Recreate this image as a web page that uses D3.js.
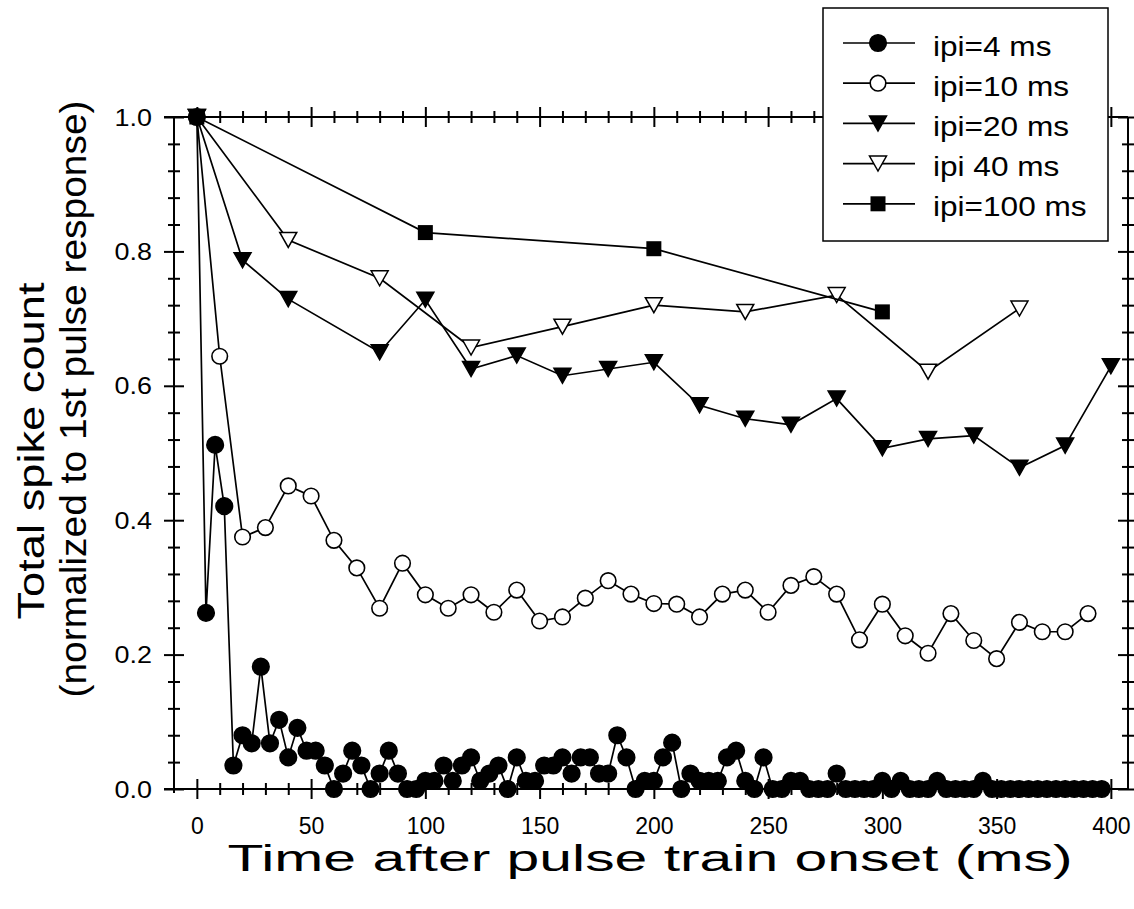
<!DOCTYPE html>
<html>
<head>
<meta charset="utf-8">
<script src="https://cdn.jsdelivr.net/npm/d3@7"></script>
<style>
  body { margin: 0; background: #fff; }
  svg { display: block; }
  text { font-family: "Liberation Sans", Arial, sans-serif; fill: #000; }
</style>
</head>
<body>
<svg id="chart" width="1134" height="909"></svg>
<script>
// Sampling times (ms) for each pulse interval
const timesIpi4 = [0,4,8,12,16,20,24,28,32,36,40,44,48,52,56,60,64,68,72,76,80,84,88,92,96,
  100,104,108,112,116,120,124,128,132,136,140,144,148,152,156,160,164,168,172,176,180,184,188,192,196,
  200,204,208,212,216,220,224,228,232,236,240,244,248,252,256,260,264,268,272,276,280,284,288,292,296,
  300,304,308,312,316,320,324,328,332,336,340,344,348,352,356,360,364,368,372,376,380,384,388,392,396];
const countsIpi4 = [1.0,0.262,0.512,0.421,0.035,0.080,0.068,0.182,0.068,0.103,0.047,0.091,0.057,0.057,0.035,0,0.023,0.057,0.035,0,0.023,0.057,0.023,0,0,
  0.012,0.012,0.035,0.012,0.035,0.047,0.012,0.023,0.035,0,0.047,0.012,0.012,0.035,0.035,0.047,0.023,0.047,0.047,0.023,0.023,0.080,0.047,0,0.012,
  0.012,0.047,0.069,0,0.023,0.012,0.012,0.012,0.047,0.057,0.012,0,0.047,0,0,0.012,0.012,0,0,0,0.023,0,0,0,0,
  0.012,0,0.012,0,0,0,0.012,0,0,0,0,0.012,0,0,0,0,0,0,0,0,0,0,0,0,0];

const timesIpi10 = [0,10,20,30,40,50,60,70,80,90,100,110,120,130,140,150,160,170,180,190,
  200,210,220,230,240,250,260,270,280,290,300,310,320,330,340,350,360,370,380,390];
const countsIpi10 = [1.0,0.644,0.375,0.389,0.451,0.436,0.370,0.329,0.269,0.336,0.289,0.269,0.289,0.263,0.296,0.250,0.256,0.284,0.310,0.290,
  0.276,0.275,0.256,0.290,0.296,0.263,0.303,0.316,0.290,0.222,0.275,0.228,0.202,0.261,0.221,0.194,0.248,0.234,0.234,0.261];

const timesIpi20 = [0,20,40,80,100,120,140,160,180,200,220,240,260,280,300,320,340,360,380,400];
const countsIpi20 = [1.0,0.787,0.729,0.650,0.728,0.625,0.645,0.615,0.625,0.635,0.571,0.551,0.542,0.581,0.507,0.521,0.526,0.478,0.511,0.629];

const timesIpi40 = [0,40,80,120,160,200,240,280,320,360];
const countsIpi40 = [1.0,0.817,0.760,0.657,0.688,0.720,0.710,0.735,0.621,0.715];

const timesIpi100 = [0,100,200,300];
const countsIpi100 = [1.0,0.828,0.804,0.710];

const seriesLabels = ["ipi=4 ms", "ipi=10 ms", "ipi=20 ms", "ipi 40 ms", "ipi=100 ms"];
const xMajorTicks = [0,50,100,150,200,250,300,350,400];
const yMajorTicks = [0,0.2,0.4,0.6,0.8,1.0];

const xTitle = "Time after pulse train onset (ms)";
const yTitleLines = ["Total spike count", "(normalized to 1st pulse response)"];

(function draw() {
  const svg = d3.select("#chart");
  const pL = 174, pR = 1128, pT = 117, pB = 789;

  const x = d3.scaleLinear().domain([-10, 407.5]).range([pL, pR]);
  const y = d3.scaleLinear().domain([0, 1]).range([pB, pT]);

  const xMinor = d3.range(0, 401, 10).filter(v => v % 50 !== 0);
  const yMinor = d3.range(0, 1.0001, 0.04).map(v => +v.toFixed(2))
    .filter(v => Math.abs(v / 0.2 - Math.round(v / 0.2)) > 1e-6);

  // marker shapes
  const symbols = {
    circleFilled: { type: "circle", fill: "#000", r: 8.3 },
    circleOpen:   { type: "circle", fill: "#fff", r: 7.8 },
    triFilled:    { type: "tri", fill: "#000" },
    triOpen:      { type: "tri", fill: "#fff" },
    square:       { type: "square", fill: "#000" }
  };

  function drawMarker(g, sym, cx, cy) {
    if (sym.type === "circle") {
      g.append("circle").attr("cx", cx).attr("cy", cy).attr("r", sym.r)
        .attr("fill", sym.fill).attr("stroke", "#000").attr("stroke-width", 1.6);
    } else if (sym.type === "tri") {
      const w = 17, h = 15;
      g.append("path")
        .attr("d", `M${cx - w/2},${cy - h/2}L${cx + w/2},${cy - h/2}L${cx},${cy + h/2}Z`)
        .attr("fill", sym.fill).attr("stroke", "#000").attr("stroke-width", 1.5);
    } else {
      const s = 15;
      g.append("rect").attr("x", cx - s/2).attr("y", cy - s/2).attr("width", s).attr("height", s)
        .attr("fill", sym.fill);
    }
  }

  // stretch a text along its own baseline to a given length
  function fitText(sel, length) {
    sel.attr("textLength", length).attr("lengthAdjust", "spacingAndGlyphs");
  }

  // ticks cross the axis lines
  function crossTicks(sel, len, vertical) {
    sel.selectAll(".tick line").each(function() {
      const l = d3.select(this);
      if (vertical) l.attr("x1", -len).attr("x2", len);
      else l.attr("y1", -len).attr("y2", len);
    });
  }
  const axisStyle = g => {
    g.selectAll("path.domain").remove();
    g.selectAll("line").attr("stroke", "#000").attr("stroke-width", 2);
  };

  // frame lines
  const frame = svg.append("g").attr("stroke", "#000").attr("stroke-width", 2);
  frame.append("line").attr("x1", pL - 10).attr("x2", pR).attr("y1", pB).attr("y2", pB);
  frame.append("line").attr("x1", pL - 10).attr("x2", pR).attr("y1", pT).attr("y2", pT);
  frame.append("line").attr("x1", pL).attr("x2", pL).attr("y1", pT).attr("y2", pB + 4);
  frame.append("line").attr("x1", pR).attr("x2", pR).attr("y1", pT).attr("y2", pB);

  // bottom axis
  const gxMaj = svg.append("g").attr("transform", `translate(0,${pB})`)
    .call(d3.axisBottom(x).tickValues(xMajorTicks).tickSize(10).tickPadding(0).tickFormat(d3.format("d")));
  axisStyle(gxMaj); crossTicks(gxMaj, 10, false);
  gxMaj.selectAll("text").attr("y", 45).attr("dy", null).attr("font-size", 23);

  const gxMin = svg.append("g").attr("transform", `translate(0,${pB})`)
    .call(d3.axisBottom(x).tickValues(xMinor).tickSize(6).tickFormat(""));
  axisStyle(gxMin); crossTicks(gxMin, 6, false);

  // top axis
  const gtMaj = svg.append("g").attr("transform", `translate(0,${pT})`)
    .call(d3.axisTop(x).tickValues(xMajorTicks).tickSize(10).tickFormat(""));
  axisStyle(gtMaj); crossTicks(gtMaj, 10, false);
  const gtMin = svg.append("g").attr("transform", `translate(0,${pT})`)
    .call(d3.axisTop(x).tickValues(xMinor).tickSize(6).tickFormat(""));
  axisStyle(gtMin); crossTicks(gtMin, 6, false);

  // left axis
  const gyMaj = svg.append("g").attr("transform", `translate(${pL},0)`)
    .call(d3.axisLeft(y).tickValues(yMajorTicks).tickSize(10).tickFormat(d3.format(".1f")));
  axisStyle(gyMaj); crossTicks(gyMaj, 10, true);
  gyMaj.selectAll("text").attr("x", null).attr("dy", null).attr("font-size", 23)
    .attr("text-anchor", "end")
    .attr("transform", "translate(-22,8) scale(1.17,1)");

  const gyMin = svg.append("g").attr("transform", `translate(${pL},0)`)
    .call(d3.axisLeft(y).tickValues(yMinor).tickSize(6).tickFormat(""));
  axisStyle(gyMin); crossTicks(gyMin, 6, true);

  // right axis
  const grMaj = svg.append("g").attr("transform", `translate(${pR},0)`)
    .call(d3.axisRight(y).tickValues(yMajorTicks).tickSize(10).tickFormat(""));
  axisStyle(grMaj); crossTicks(grMaj, 10, true);
  const grMin = svg.append("g").attr("transform", `translate(${pR},0)`)
    .call(d3.axisRight(y).tickValues(yMinor).tickSize(6).tickFormat(""));
  axisStyle(grMin); crossTicks(grMin, 6, true);

  // series
  const series = [
    { t: timesIpi4,   v: countsIpi4,   sym: symbols.circleFilled },
    { t: timesIpi10,  v: countsIpi10,  sym: symbols.circleOpen },
    { t: timesIpi20,  v: countsIpi20,  sym: symbols.triFilled },
    { t: timesIpi40,  v: countsIpi40,  sym: symbols.triOpen },
    { t: timesIpi100, v: countsIpi100, sym: symbols.square }
  ];

  const line = d3.line().x(d => x(d[0])).y(d => y(d[1]));
  const plot = svg.append("g");
  series.forEach(s => {
    const pts = s.t.map((t, i) => [t, s.v[i]]);
    const g = plot.append("g");
    g.append("path").attr("d", line(pts)).attr("fill", "none")
      .attr("stroke", "#000").attr("stroke-width", 1.7);
    pts.forEach(p => drawMarker(g, s.sym, x(p[0]), y(p[1])));
  });

  // legend
  const lg = svg.append("g");
  lg.append("rect").attr("x", 823).attr("y", 8).attr("width", 285).attr("height", 233)
    .attr("fill", "#fff").attr("stroke", "#000").attr("stroke-width", 1.5);
  series.forEach((s, i) => {
    const cy = 43 + i * 40.2;
    lg.append("line").attr("x1", 843).attr("x2", 915).attr("y1", cy).attr("y2", cy)
      .attr("stroke", "#000").attr("stroke-width", 1.7);
    drawMarker(lg, s.sym, 878, cy);
    lg.append("text").attr("font-size", 27)
      .attr("transform", `translate(933,${cy + 12.5}) scale(1.17,1)`)
      .text(seriesLabels[i]);
  });

  // axis titles
  svg.append("text").attr("font-size", 36).attr("text-anchor", "middle")
    .attr("x", 650).attr("y", 871)
    .text(xTitle)
    .call(fitText, 845);

  svg.append("text").attr("font-size", 37).attr("text-anchor", "middle")
    .attr("transform", `translate(44,451) rotate(-90)`)
    .text(yTitleLines[0])
    .call(fitText, 337);
  svg.append("text").attr("font-size", 37).attr("text-anchor", "middle")
    .attr("transform", `translate(86,399) rotate(-90)`)
    .text(yTitleLines[1])
    .call(fitText, 597);
})();
</script>
</body>
</html>
